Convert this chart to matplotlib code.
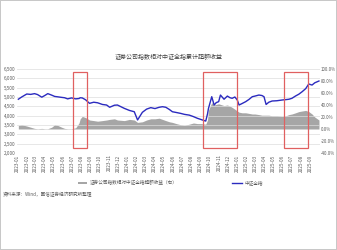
import matplotlib
matplotlib.use('Agg')
import matplotlib.pyplot as plt
import matplotlib.dates as mdates
import matplotlib.transforms as mtransforms
from matplotlib.patches import Rectangle
from matplotlib.ticker import FuncFormatter, MultipleLocator
import pandas as pd

plt.rcParams['font.family'] = ['Noto Sans CJK SC', 'DejaVu Sans']

#%% data
dates = ['2023-01-03', '2023-01-14', '2023-01-31', '2023-02-13', '2023-02-26', '2023-03-08',
         '2023-03-22', '2023-04-01', '2023-04-11', '2023-04-24', '2023-05-04', '2023-05-14',
         '2023-05-27', '2023-06-06', '2023-06-16', '2023-06-29', '2023-07-13', '2023-07-24',
         '2023-07-28', '2023-08-04', '2023-08-15', '2023-08-28', '2023-09-11', '2023-09-24',
         '2023-10-10', '2023-10-24', '2023-11-03', '2023-11-19', '2023-11-29', '2023-12-22',
         '2024-01-08', '2024-01-24', '2024-02-04', '2024-02-20', '2024-03-05', '2024-03-19',
         '2024-04-02', '2024-04-16', '2024-04-27', '2024-05-08', '2024-05-20', '2024-05-30',
         '2024-06-12', '2024-06-27', '2024-07-09', '2024-07-25', '2024-08-08', '2024-08-21',
         '2024-09-03', '2024-09-18', '2024-09-24', '2024-09-27', '2024-10-08', '2024-10-16',
         '2024-10-23', '2024-10-31', '2024-11-06', '2024-11-18', '2024-11-29', '2024-12-08',
         '2024-12-15', '2024-12-24', '2025-01-01', '2025-01-07', '2025-01-17', '2025-01-29',
         '2025-02-09', '2025-02-20', '2025-03-01', '2025-03-14', '2025-03-24', '2025-03-31',
         '2025-04-07', '2025-04-16', '2025-04-27', '2025-05-13', '2025-05-31', '2025-06-12',
         '2025-06-22', '2025-07-02', '2025-07-14', '2025-07-25', '2025-08-05', '2025-08-17',
         '2025-08-27', '2025-09-07', '2025-09-16', '2025-09-30']

# 中证全指 (left axis)
index_all = [4880, 5000, 5160, 5140, 5180, 5130,
             4990, 5080, 5180, 5100, 5030, 5010,
             4980, 4960, 4900, 4950, 4900, 4920,
             4960, 4950, 4850, 4660, 4720, 4690,
             4600, 4570, 4450, 4560, 4570, 4390,
             4280, 4210, 3770, 4180, 4350, 4430,
             4380, 4450, 4480, 4450, 4330, 4210,
             4170, 4120, 4070, 4030, 3950, 3860,
             3790, 3710, 4100, 4380, 5016, 4570,
             4700, 4750, 5105, 4880, 5050, 4960,
             4930, 5000, 4840, 4570, 4650, 4750,
             4870, 5016, 5050, 5105, 5080, 5016,
             4600, 4720, 4785, 4800, 4840, 4860,
             4880, 4930, 5053, 5150, 5283, 5450,
             5696, 5640, 5760, 5857]

# 累计超额收益 % (right axis)
excess = [6, 7, 5, 3, 1, 0.5,
          1, 0.5, 0.5, 3, 7, 6,
          3, 1, 0.5, 0.5, 2, 10,
          17, 21, 19, 15, 14, 13,
          14, 15, 16, 17, 15, 14,
          16, 15, 11, 12, 15, 17,
          17, 18, 16, 14, 12, 11,
          9, 7, 6, 8, 10, 9,
          9, 8, 15, 31, 44, 40,
          41, 42, 41, 39, 40, 38,
          36, 33, 30, 28, 27, 27,
          26, 25, 25, 24, 23, 23,
          23, 23, 22, 22, 21, 22,
          24, 25, 27, 29, 30, 31,
          29, 25, 20, 15]

# highlighted periods (red boxes)
box_start = ['2023-07-03', '2024-09-09', '2025-06-05']
box_end = ['2023-08-18', '2025-01-01', '2025-08-24']

title = '证券公司指数相对中证全指累计超额收益'
label_excess = '证券公司指数相对中证全指超额收益（右）'
label_index = '中证全指'
source = '资料来源：Wind，国信证券经济研究所整理'

#%%
t = pd.to_datetime(dates)
tick_months = pd.date_range('2023-01-01', '2025-09-01', freq='MS')

fig = plt.figure(figsize=(3.37, 2.5), dpi=100)
fig.patch.set_edgecolor('#c8c8c8')
fig.patch.set_linewidth(1.2)

ax = fig.add_axes([0.050, 0.388, 0.900, 0.336])   # right axis, gray area
ax2 = ax.twinx()                                  # left axis, blue line

ax.fill_between(t, 0, excess, color='#a6a6a6', lw=0, label=label_excess)
ax.set_ylim(-40, 100)
ax.yaxis.set_major_locator(MultipleLocator(20))
ax.yaxis.set_major_formatter(FuncFormatter(lambda v, p: '%.1f%%' % v))
ax.yaxis.tick_right()
ax.yaxis.set_label_position('right')

ax2.plot(t, index_all, color='#2b2bbf', lw=1.0, label=label_index)
ax2.set_ylim(2000, 6500)
ax2.yaxis.set_major_locator(MultipleLocator(500))
ax2.yaxis.set_major_formatter(FuncFormatter(lambda v, p: '{:,.0f}'.format(v)))
ax2.yaxis.tick_left()
ax2.grid(axis='y', color='#dddddd', lw=0.5)
ax2.set_axisbelow(True)

# keep the gray area under the line
ax.set_zorder(1)
ax2.set_zorder(2)
ax2.patch.set_visible(False)

for a in (ax, ax2):
    for s in a.spines.values():
        s.set_visible(False)
    a.tick_params(axis='both', length=0, labelsize=3.3, colors='#595959', pad=1)
ax.tick_params(axis='y', pad=0.5, labelsize=3.1)

ax.set_xlim(pd.Timestamp('2022-12-29'), pd.Timestamp('2025-10-04'))
ax.set_xticks(tick_months)
ax.xaxis.set_major_formatter(mdates.DateFormatter('%Y-%m'))
plt.setp(ax.get_xticklabels(), rotation=90)

trans = mtransforms.blended_transform_factory(ax2.transData, ax2.transAxes)
for s, e in zip(box_start, box_end):
    x0 = mdates.date2num(pd.Timestamp(s))
    x1 = mdates.date2num(pd.Timestamp(e))
    ax2.add_patch(Rectangle((x0, 0.06), x1 - x0, 0.90, transform=trans,
                            fill=False, edgecolor='#e06060', lw=0.9, zorder=5))

fig.text(0.5, 0.772, title, ha='center', va='center', fontsize=4.3, color='#404040')

h1, l1 = ax.get_legend_handles_labels()
h2, l2 = ax2.get_legend_handles_labels()
fig.legend(h1 + h2, l1 + l2, loc='center', bbox_to_anchor=(0.505, 0.268), ncol=2,
           frameon=False, fontsize=3.3, handlelength=2.0, handleheight=0.5,
           handletextpad=0.6, columnspacing=12, labelcolor='#595959')

fig.text(0.008, 0.22, source, ha='left', va='center', fontsize=3.3, color='#595959')

fig.savefig('out.png', dpi=100)
